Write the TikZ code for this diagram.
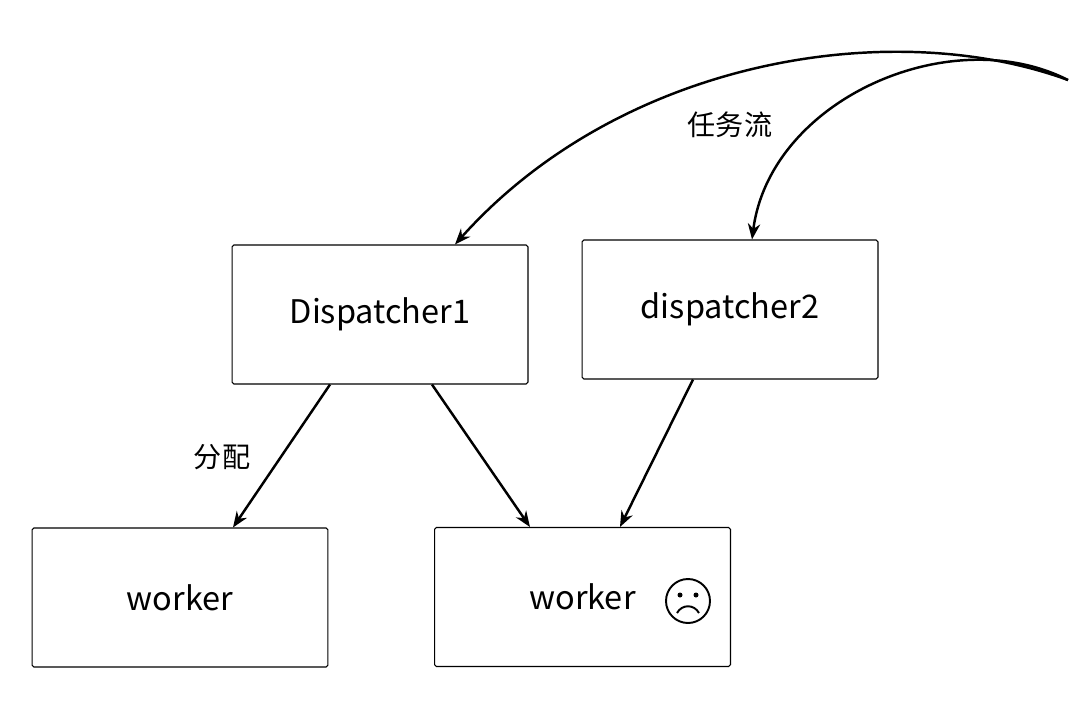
\documentclass[tikz,border=0pt]{standalone}
\usepackage{fontspec}
\setmainfont{Noto Sans CJK SC}
\usetikzlibrary{arrows.meta}
\begin{document}
\begin{tikzpicture}[x=0.02cm,y=-0.02cm,
  box/.style={draw,line width=0.6pt,minimum width=5.92cm,minimum height=2.78cm,rounded corners=1pt,font=\fontsize{18.5}{22}\selectfont},
  flow/.style={-{Stealth[length=9pt,width=7pt]},line width=1.4pt},
  lbl/.style={font=\fontsize{16}{19}\selectfont}]
\useasboundingbox (0,0) rectangle (1090,704);
\node[box] (disp1) at (380,314.5) {\raisebox{-4pt}{Dispatcher1}};
\node[box] (disp2) at (730,309.5) {\raisebox{-4pt}{dispatcher2}};
\node[box] (work1) at (180,597.5) {\raisebox{-2pt}{worker}};
\node[box] (work2) at (582.5,597) {\raisebox{-2pt}{worker}};
% sad face
\begin{scope}[line width=1.1pt]
\draw (688,601) circle (22);
\fill (680,595) circle (2.5) (696,595) circle (2.5);
\draw (677,613) .. controls (682,604) and (694,604) .. (699,613);
\end{scope}
\coordinate (src) at (1068,80);
\draw[flow] (src) .. controls (890,15) and (620,60) .. ([xshift=1.5cm]disp1.north);
\draw[flow] (src) .. controls (950,20) and (770,100) .. ([xshift=0.44cm]disp2.north);
\node[lbl] at (730,125) {任务流};
\draw[flow] ([xshift=-1cm]disp1.south) -- ([xshift=1.06cm]work1.north);
\draw[flow] ([xshift=1.04cm]disp1.south) -- ([xshift=-1.05cm]work2.north);
\draw[flow] ([xshift=-0.74cm]disp2.south) -- ([xshift=0.75cm]work2.north);
\node[lbl] at (222,457) {分配};
\end{tikzpicture}
\end{document}
